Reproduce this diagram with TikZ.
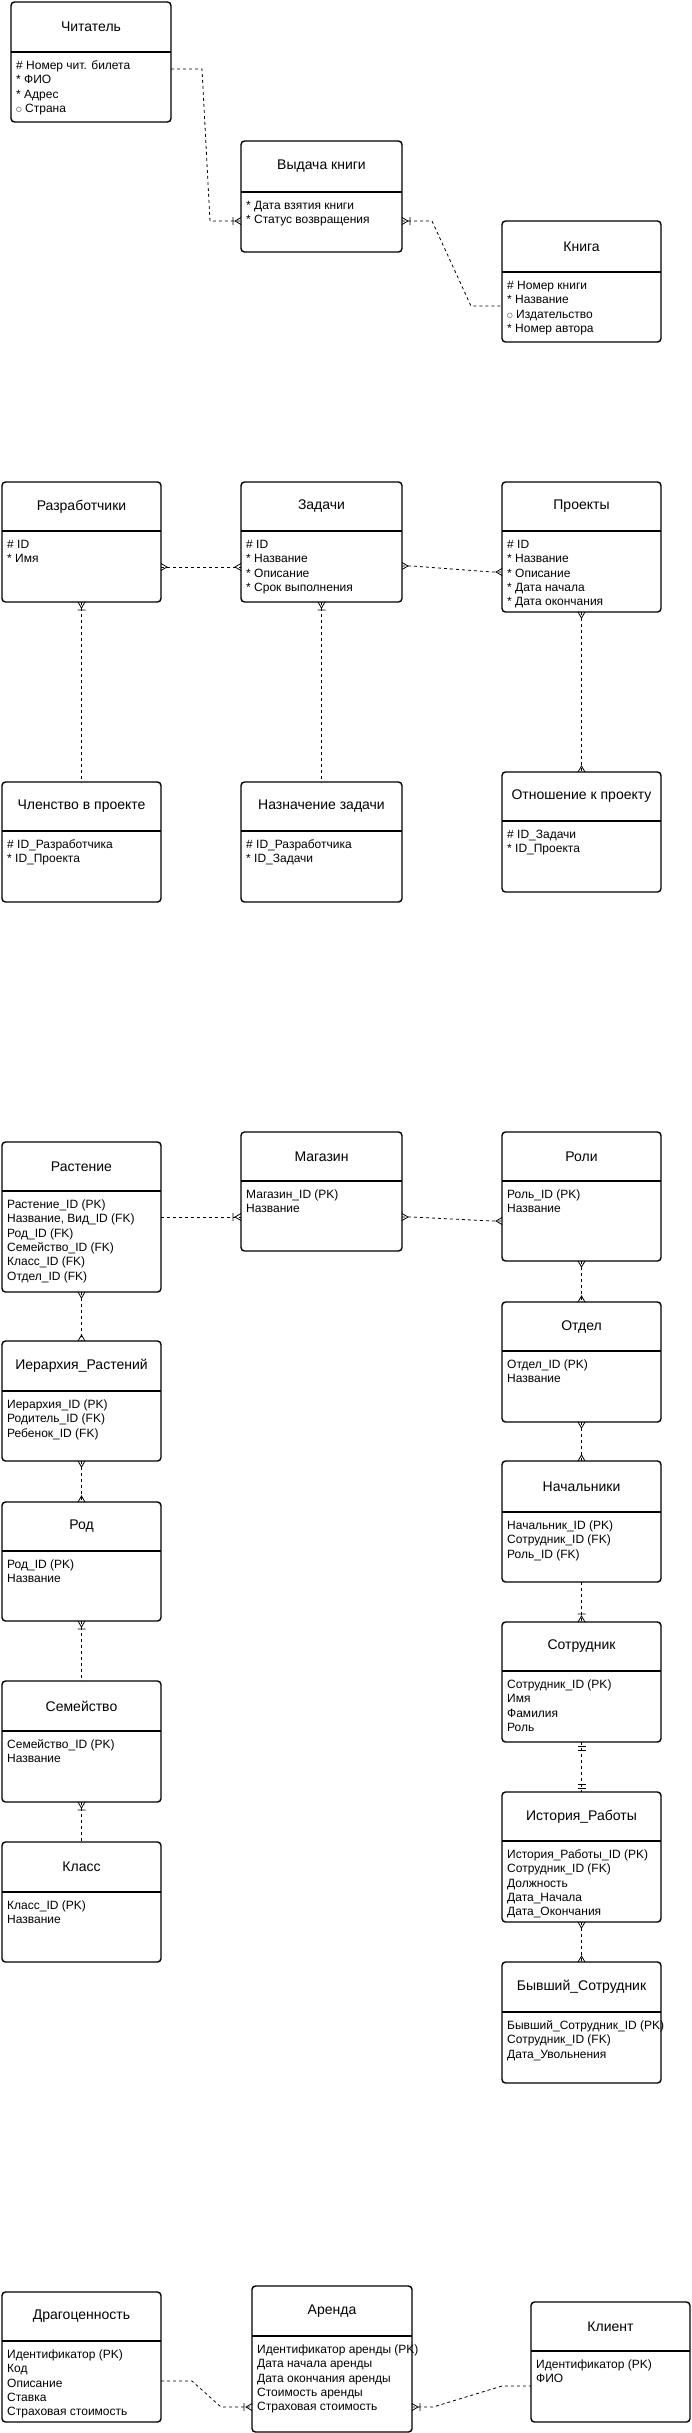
\documentclass[tikz,border=0pt]{standalone}
\usepackage{fontspec}
\setmainfont{Liberation Sans}
\newfontfamily\djvfont{DejaVu Sans}
\newcommand\cir{\raisebox{0.6pt}{\djvfont\fontsize{6.5}{7}\selectfont ○}}
\tikzset{
 ebox/.style={draw, line width=1.4pt, rounded corners=3.5pt, outer sep=0pt, inner sep=0pt, fill=white},
 ediv/.style={line width=1.4pt},
 etitle/.style={font=\fontsize{14}{16.8}\selectfont, inner sep=0pt},
 ebody/.style={font=\fontsize{12}{14.4}\selectfont, align=left, inner sep=0pt, anchor=north west},
 conn/.style={line width=0.8pt, dash pattern=on 3pt off 3pt},
 mk/.style={line width=0.8pt},
}
\newcommand\erent[8]{%
 \node[ebox, minimum width={#4-#2}, minimum height={#5-#3}, anchor=north west] (#1) at (#2,#3) {};
 \draw[ediv] (#2,#6) -- (#4,#6);
 \node[etitle] (#1-t) at ({(#2+#4)/2},{(#3+#6)/2}) {#7};
 \node[ebody] (#1-b) at ({#2+5},{#6+7}) {\strut #8};
}
\newcommand\crowmk[2]{\draw[mk,shift={#1},rotate=#2] (0,3.5) -- (6,0) -- (0,-3.5);}
\newcommand\mandmany[2]{\draw[mk,shift={#1},rotate=#2] (0,3.5) -- (6,0) -- (0,-3.5) (8,4) -- (8,-4);}
\newcommand\mandone[2]{\draw[mk,shift={#1},rotate=#2] (4,4) -- (4,-4) (8,4) -- (8,-4);}
\begin{document}
\begin{tikzpicture}[x=1pt,y=-1pt]
\useasboundingbox (0,0) rectangle (692,2433);
\fill[white] (0,0) rectangle (692,2433);

% ---- library
\erent{chit}{11}{2}{171}{122}{52}{Читатель}{\# Номер чит. билета\\* ФИО\\* Адрес\\\cir\ Страна}
\erent{vyd}{241}{141}{402}{252}{192}{Выдача книги}{* Дата взятия книги\\* Статус возвращения}
\erent{kniga}{502}{221}{661}{342}{272}{Книга}{\# Номер книги\\* Название\\\cir\ Издательство\\* Номер автора}

% ---- projects
\erent{razr}{2}{482}{161}{602}{531}{Разработчики}{\# ID\\* Имя}
\erent{zad}{241}{482}{402}{602}{531}{Задачи}{\# ID\\* Название\\* Описание\\* Срок выполнения}
\erent{proj}{502}{482}{661}{612}{531}{Проекты}{\# ID\\* Название\\* Описание\\* Дата начала\\* Дата окончания}
\erent{chlen}{2}{782}{161}{902}{831}{Членство в проекте}{\# ID\_Разработчика\\* ID\_Проекта}
\erent{nazn}{241}{782}{402}{902}{831}{Назначение задачи}{\# ID\_Разработчика\\* ID\_Задачи}
\erent{otn}{502}{772}{661}{892}{821}{Отношение к проекту}{\# ID\_Задачи\\* ID\_Проекта}

% ---- plants / staff
\erent{rast}{2}{1142}{161}{1292}{1191}{Растение}{Растение\_ID (PK)\\Название, Вид\_ID (FK)\\Род\_ID (FK)\\Семейство\_ID (FK)\\Класс\_ID (FK)\\Отдел\_ID (FK)}
\erent{mag}{241}{1132}{402}{1251}{1181}{Магазин}{Магазин\_ID (PK)\\Название}
\erent{roli}{502}{1132}{661}{1261}{1181}{Роли}{Роль\_ID (PK)\\Название}
\erent{ierar}{2}{1341}{161}{1461}{1391}{Иерархия\_Растений}{Иерархия\_ID (PK)\\Родитель\_ID (FK)\\Ребенок\_ID (FK)}
\erent{rod}{2}{1502}{161}{1621}{1551}{Род}{Род\_ID (PK)\\Название}
\erent{otdel}{502}{1302}{661}{1422}{1351}{Отдел}{Отдел\_ID (PK)\\Название}
\erent{nach}{502}{1461}{661}{1582}{1512}{Начальники}{Начальник\_ID (PK)\\Сотрудник\_ID (FK)\\Роль\_ID (FK)}
\erent{sotr}{502}{1622}{661}{1742}{1671}{Сотрудник}{Сотрудник\_ID (PK)\\Имя\\Фамилия\\Роль}
\erent{sem}{2}{1681}{161}{1802}{1731}{Семейство}{Семейство\_ID (PK)\\Название}
\erent{klass}{2}{1842}{161}{1962}{1892}{Класс}{Класс\_ID (PK)\\Название}
\erent{ist}{502}{1792}{661}{1922}{1841}{История\_Работы}{История\_Работы\_ID (PK)\\Сотрудник\_ID (FK)\\Должность\\Дата\_Начала\\Дата\_Окончания}
\erent{byv}{502}{1962}{661}{2083}{2012}{Бывший\_Сотрудник}{Бывший\_Сотрудник\_ID (PK)\\Сотрудник\_ID (FK)\\Дата\_Увольнения}

% ---- rent
\erent{drag}{2}{2292}{161}{2422}{2341}{Драгоценность}{Идентификатор (PK)\\Код\\Описание\\Ставка\\Страховая стоимость}
\erent{arenda}{252}{2286}{412}{2432}{2336}{Аренда}{Идентификатор аренды (PK)\\Дата начала аренды\\Дата окончания аренды\\Стоимость аренды\\Страховая стоимость}
\erent{klient}{531}{2302}{690}{2422}{2351}{Клиент}{Идентификатор (PK)\\ФИО}

% ---- connectors
\coordinate (a1) at (chit.east |- 0,69);
\coordinate (b1) at (vyd.west |- 0,221);
\draw[conn] (a1) -- (202,69) -- (210,221) -- (b1);
\mandmany{(b1)}{180}

\coordinate (a2) at (vyd.east |- 0,221);
\coordinate (b2) at (kniga.west |- 0,306);
\draw[conn] (a2) -- (432,221) -- (471,306) -- (b2);
\mandmany{(a2)}{0}

\coordinate (a3) at (razr.east |- 0,567);
\coordinate (b3) at (zad.west |- 0,567);
\draw[conn] (a3) -- (b3);
\crowmk{(a3)}{0}
\crowmk{(b3)}{180}

\coordinate (a4) at (zad.east |- 0,566);
\coordinate (b4) at (proj.west |- 0,572);
\draw[conn] (a4) -- (412,566) -- (492,572) -- (b4);
\crowmk{(a4)}{0}
\crowmk{(b4)}{180}

\draw[conn] (razr.south) -- (chlen.north);
\mandmany{(razr.south)}{270}
\draw[conn] (zad.south) -- (nazn.north);
\mandmany{(zad.south)}{270}
\draw[conn] (proj.south) -- (otn.north);
\crowmk{(proj.south)}{270}
\crowmk{(otn.north)}{90}

\coordinate (a8) at (rast.east |- 0,1217);
\coordinate (b8) at (mag.west |- 0,1217);
\draw[conn] (a8) -- (b8);
\mandmany{(b8)}{180}

\coordinate (a9) at (mag.east |- 0,1217);
\coordinate (b9) at (roli.west |- 0,1221);
\draw[conn] (a9) -- (412,1217) -- (492,1221) -- (b9);
\crowmk{(a9)}{0}
\crowmk{(b9)}{180}

\draw[conn] (rast.south) -- (ierar.north);
\crowmk{(rast.south)}{270}
\crowmk{(ierar.north)}{90}
\draw[conn] (ierar.south) -- (rod.north);
\crowmk{(ierar.south)}{270}
\crowmk{(rod.north)}{90}
\draw[conn] (rod.south) -- (sem.north);
\mandmany{(rod.south)}{270}
\draw[conn] (sem.south) -- (klass.north);
\mandmany{(sem.south)}{270}

\draw[conn] (roli.south) -- (otdel.north);
\crowmk{(roli.south)}{270}
\crowmk{(otdel.north)}{90}
\draw[conn] (otdel.south) -- (nach.north);
\crowmk{(otdel.south)}{270}
\crowmk{(nach.north)}{90}
\draw[conn] (nach.south) -- (sotr.north);
\mandmany{(sotr.north)}{90}
\draw[conn] (sotr.south) -- (ist.north);
\mandone{(sotr.south)}{270}
\mandone{(ist.north)}{90}
\draw[conn] (ist.south) -- (byv.north);
\crowmk{(ist.south)}{270}
\crowmk{(byv.north)}{90}

\coordinate (a19) at (drag.east |- 0,2381);
\coordinate (b19) at (arenda.west |- 0,2407);
\draw[conn] (a19) -- (192,2381) -- (221,2407) -- (b19);
\mandmany{(b19)}{180}

\coordinate (a20) at (arenda.east |- 0,2407);
\coordinate (b20) at (klient.west |- 0,2386);
\draw[conn] (a20) -- (433,2407) -- (502,2386) -- (b20);
\mandmany{(a20)}{0}
\end{tikzpicture}
\end{document}
